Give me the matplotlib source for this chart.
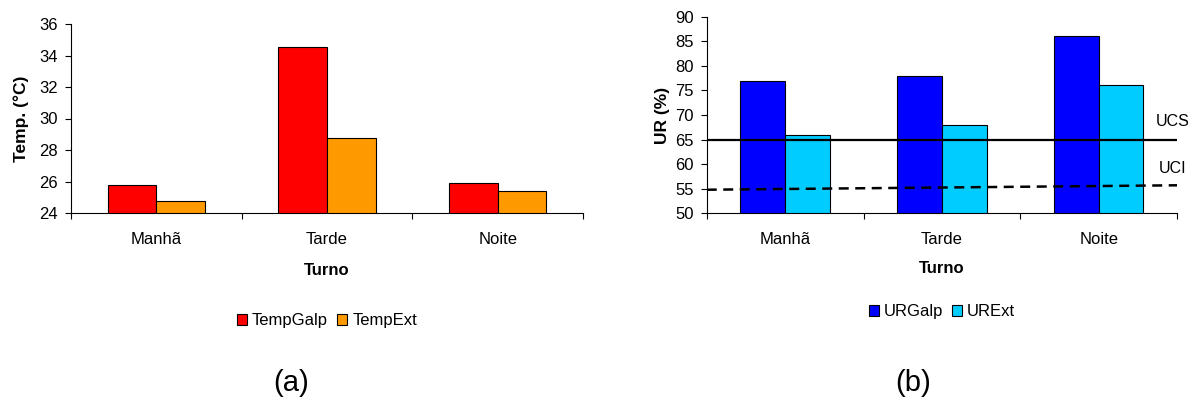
import matplotlib.pyplot as plt
import numpy as np

plt.rcParams['font.family'] = ['Liberation Sans', 'DejaVu Sans']

turnos = ['Manhã', 'Tarde', 'Noite']
temp_galp = [25.75, 34.55, 25.93]
temp_ext = [24.75, 28.75, 25.38]
ur_galp = [77.0, 78.0, 86.0]
ur_ext = [66.0, 68.0, 76.0]
ucs = [65.0, 65.0]
uci = [54.8, 55.7]

red = '#FF0000'
orange = '#FF9900'
blue = '#0000FF'
cyan = '#00CCFF'


def style_axis(ax, ylim, yticks, ylabel):
    x = np.arange(len(turnos))
    ax.set_xlim(-0.5, len(turnos) - 0.5)
    ax.set_ylim(*ylim)
    ax.set_yticks(yticks)
    ax.set_xticks(np.arange(len(turnos) + 1) - 0.5)
    ax.set_xticklabels([])
    ax.set_xticks(x, minor=True)
    ax.set_xticklabels(turnos, minor=True)
    ax.tick_params(axis='x', which='minor', length=0, pad=13.5, labelsize=12)
    ax.tick_params(axis='x', which='major', direction='out', length=4.5, width=0.8)
    ax.tick_params(axis='y', direction='out', length=4.5, width=0.8, pad=5, labelsize=12)
    for s in ['top', 'right']:
        ax.spines[s].set_visible(False)
    ax.set_ylabel(ylabel, fontsize=12.5, fontweight='bold')
    ax.set_xlabel('Turno', fontsize=12, fontweight='bold')


fig = plt.figure(figsize=(11.92, 4), dpi=100)
x = np.arange(len(turnos))
w = 0.285
leg_kw = dict(loc='center', ncol=2, frameon=False, fontsize=12,
              handlelength=0.6, handleheight=0.6, handletextpad=0.3,
              columnspacing=0.55)

# (a) temperatura
ax1 = fig.add_axes([0.0596, 0.4675, 0.4295, 0.4725])
ax1.bar(x - w / 2, temp_galp, w, color=red, edgecolor='black', linewidth=0.8,
        label='TempGalp', zorder=2)
ax1.bar(x + w / 2, temp_ext, w, color=orange, edgecolor='black', linewidth=0.8,
        label='TempExt', zorder=2)
style_axis(ax1, (24, 36), np.arange(24, 37, 2), 'Temp. (°C)')
ax1.yaxis.set_label_coords(-0.083, 0.5)
ax1.xaxis.set_label_coords(0.5, -0.262)
ax1.legend(bbox_to_anchor=(0.5, -0.57), **leg_kw)

# (b) umidade relativa
ax2 = fig.add_axes([0.5929, 0.4667, 0.3946, 0.4917])
ax2.bar(x - w / 2, ur_galp, w, color=blue, edgecolor='black', linewidth=0.8,
        label='URGalp', zorder=2)
ax2.bar(x + w / 2, ur_ext, w, color=cyan, edgecolor='black', linewidth=0.8,
        label='URExt', zorder=2)
ax2.plot([-0.5, 2.5], ucs, color='black', linewidth=1.6, zorder=3)
ax2.plot([-0.5, 2.5], uci, color='black', linewidth=1.8, linestyle=(0, (4, 2.6)),
         zorder=3)
style_axis(ax2, (50, 90), np.arange(50, 91, 5), 'UR (%)')
ax2.yaxis.set_label_coords(-0.079, 0.5)
ax2.xaxis.set_label_coords(0.5, -0.24)
ax2.text(2.474, 68.6, 'UCS', fontsize=11.5, va='center', ha='center')
ax2.text(2.468, 59.2, 'UCI', fontsize=11.5, va='center', ha='center')
ax2.legend(bbox_to_anchor=(0.5, -0.5), **leg_kw)

fig.text(291 / 1192, 1 - 383 / 400, '(a)', fontsize=21, ha='center', va='center')
fig.text(913 / 1192, 1 - 383 / 400, '(b)', fontsize=21, ha='center', va='center')

plt.savefig('out.png', dpi=100)
